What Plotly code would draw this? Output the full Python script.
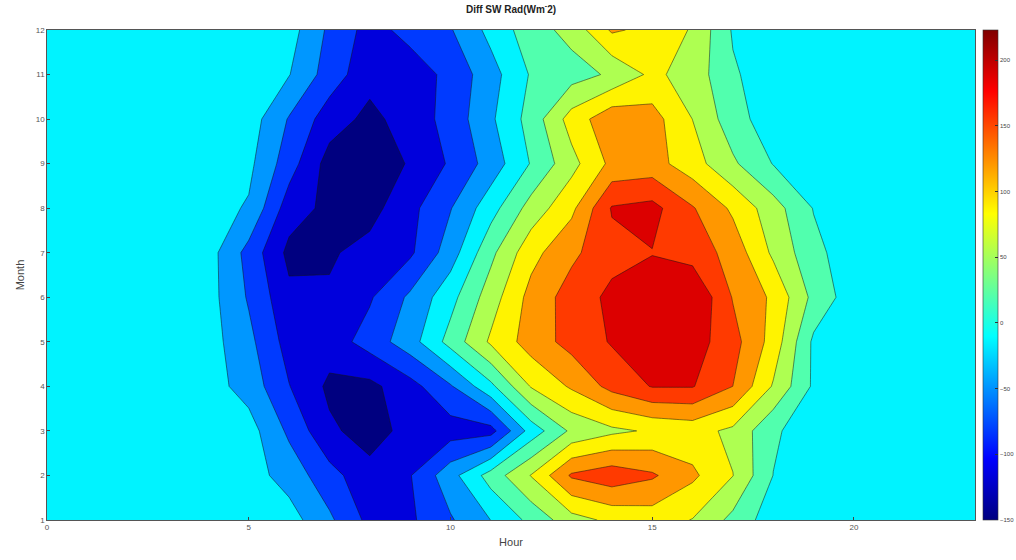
import plotly.graph_objects as go

# ---------------- data ----------------
hours = list(range(0, 24))
months = list(range(1, 13))

m01 = [0, 0, 0, 0, 0, 0, 0, -42, -92, -88, -52, -14, 29, 74, 95, 103, 86, 44, 0, 0, 0, 0, 0, 0]
m02 = [0, 0, 0, 0, 0, 0, -28, -70, -105, -84, -27, 34, 89, 160, 176, 160, 128, 88, 19, 0, 0, 0, 0, 0]
m03 = [0, 0, 0, 0, 0, 0, -55, -110, -130, -105, -98, -95, 0, 60, 80, 92, 100, 80, 25, 0, 0, 0, 0, 0]
m04 = [0, 0, 0, 0, 0, -28, -81, -123, -125, -95, -52, 11, 90, 126, 166, 191, 191, 155, 84, 14, 0, 0, 0, 0]
m05 = [0, 0, 0, 0, 0, -39, -96, -100, -68, -29, 32, 93, 137, 167, 192, 205, 205, 168, 108, 13, 0, 0, 0, 0]
m06 = [0, 0, 0, 0, -1, -52, -108, -112, -86, -42, 8, 71, 133, 170, 197, 205, 223, 153, 115, 44, 0, 0, 0, 0]
m07 = [0, 0, 0, 0, 0, -60, -125, -120, -105, -88, -31, 45, 110, 148, 178, 188, 175, 142, 81, 29, 0, 0, 0, 0]
m08 = [0, 0, 0, 0, 0, -18, -100, -125, -128, -92, -50, 6, 67, 113, 192, 200, 158, 115, 68, 18, 0, 0, 0, 0]
m09 = [0, 0, 0, 0, 0, -6, -67, -130, -150, -111, -78, -34, 22, 76, 130, 135, 102, 59, 18, 0, 0, 0, 0, 0]
m10 = [0, 0, 0, 0, 0, 3, -51, -100, -125, -101, -70, -20, 33, 102, 145, 135, 87, 34, 0, 0, 0, 0, 0, 0]
m11 = [0, 0, 0, 0, 0, 0, -13, -64, -105, -100, -73, -28, 23, 39, 59, 95, 73, 24, 0, 0, 0, 0, 0, 0]
m12 = [0, 0, 0, 0, 0, 0, 0, -55, -95, -71, -51, -4, 38, 65, 126, 112, 84, 16, 0, 0, 0, 0, 0, 0]

z = [m01, m02, m03, m04, m05, m06, m07, m08, m09, m10, m11, m12]

x_ticks = [0, 5, 10, 15, 20]
y_ticks = list(range(1, 13))
cbar_ticks = [-150, -100, -50, 0, 50, 100, 150, 200]

z_lo, z_hi = -150, 223
n_bands = 11

# ---------------- styling helpers ----------------
def jet(t):
    def c(v):
        return max(0.0, min(1.0, v))
    r = c(min(4 * t - 1.5, -4 * t + 4.5))
    g = c(min(4 * t - 0.5, -4 * t + 3.5))
    b = c(min(4 * t + 0.5, -4 * t + 2.5))
    return "rgb(%d,%d,%d)" % (round(r * 255), round(g * 255), round(b * 255))

step = (z_hi - z_lo) / n_bands
n_levels = n_bands - 1
band_scale = [[j / n_levels, jet(j / n_bands)] for j in range(n_bands)]
cont_scale = [[i / 64, jet(i / 64)] for i in range(65)]

font_fam = "Liberation Sans, Arial, sans-serif"

fig = go.Figure()

# continuous colour bar (covered by the filled contour)
fig.add_trace(go.Heatmap(
    x=hours, y=months, z=z,
    zmin=z_lo, zmax=z_hi,
    colorscale=cont_scale,
    showscale=True,
    hoverinfo="skip",
    colorbar=dict(
        x=(983 - 47) / 928, xanchor="left", xpad=0,
        y=0.5, yanchor="middle", ypad=0,
        len=1, lenmode="fraction", thickness=15,
        outlinewidth=0.6, outlinecolor="#333",
        tickvals=cbar_ticks, ticks="inside", ticklen=3, tickcolor="#333",
        tickfont=dict(size=6, color="#444", family=font_fam),
    ),
))

fig.add_trace(go.Contour(
    x=hours, y=months, z=z,
    colorscale=band_scale,
    showscale=False,
    contours=dict(start=z_lo + step, end=z_lo + n_levels * step, size=step,
                  coloring="fill", showlines=True),
    line=dict(width=0.6, color="rgba(20,20,20,0.85)", smoothing=0),
))

fig.update_layout(
    width=1016, height=560,
    margin=dict(l=47, r=41, t=30, b=40, autoexpand=False),
    paper_bgcolor="white", plot_bgcolor="white",
    font=dict(family=font_fam, color="#333"),
    title=dict(text="<b>Diff SW Rad(Wm<sup>-</sup>2)</b>", x=(47 + 975) / 2 / 1016,
               xanchor="center", y=1 - 9 / 560, yanchor="middle",
               font=dict(size=10, color="#222", family=font_fam)),
    showlegend=False,
)
fig.update_xaxes(range=[0, 23], tickvals=x_ticks, ticks="inside", ticklen=3,
                 showgrid=False, zeroline=False, showline=True, linecolor="#555",
                 linewidth=0.6, mirror=True,
                 tickfont=dict(size=8, color="#555"),
                 title=dict(text="Hour", font=dict(size=11, color="#444"), standoff=6))
fig.update_yaxes(range=[1, 12], tickvals=y_ticks, ticks="inside", ticklen=3,
                 showgrid=False, zeroline=False, showline=True, linecolor="#555",
                 linewidth=0.6, mirror=True,
                 tickfont=dict(size=8, color="#555"),
                 title=dict(text="Month", font=dict(size=11, color="#444"), standoff=8))

fig.write_html("out.html")
